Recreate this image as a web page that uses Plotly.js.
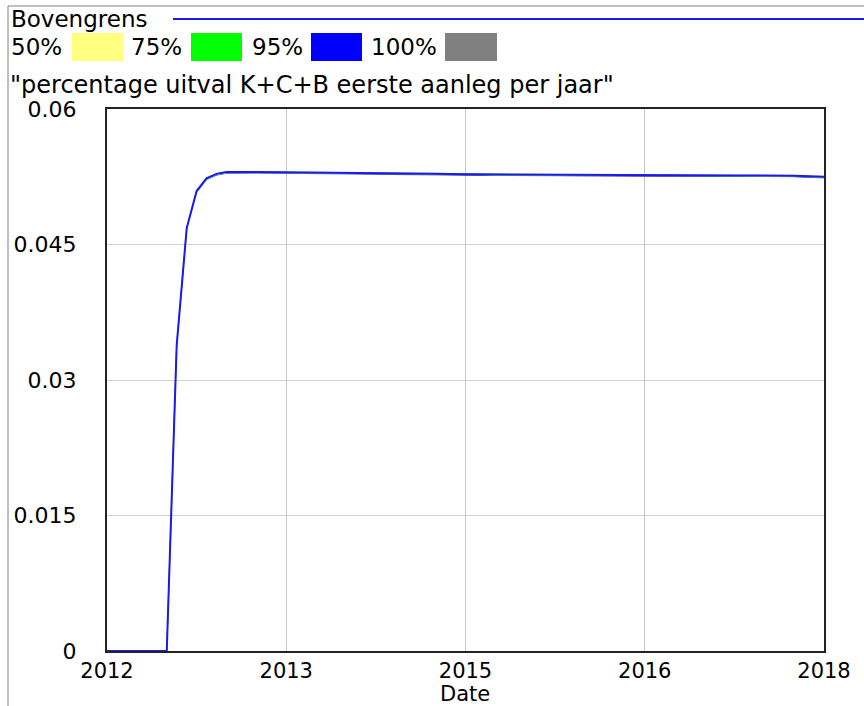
<!DOCTYPE html>
<html>
<head>
<meta charset="utf-8">
<script src="https://cdn.plot.ly/plotly-3.0.1.min.js"></script>
<style>html,body{margin:0;padding:0;background:#fff;}</style>
</head>
<body>
<div id="chart" style="width:864px;height:706px;"></div>
<script>
// ---- data ----
const time = [2012, 2012.5, 2012.583, 2012.667, 2012.75, 2012.833, 2012.917, 2013, 2013.25, 2013.5, 2013.75, 2014, 2014.25, 2014.5, 2014.75, 2015, 2015.25, 2015.5, 2015.75, 2016, 2016.25, 2016.5, 2016.75, 2017, 2017.25, 2017.5, 2017.75, 2018];
const bovengrens = [0,0,0.03382,0.04682,0.05092,0.05232,0.05282,0.05302,0.05303,0.05301,0.05299,0.05296,0.05293,0.05291,0.05284,0.05278,0.05276,0.05272,0.05275,0.05274,0.05272,0.05268,0.05268,0.05266,0.05265,0.05265,0.05262,0.05250];
const p100hi = [0,0,0.03385,0.04685,0.05095,0.05235,0.05285,0.05305,0.05305,0.05303,0.05300,0.05298,0.05295,0.05293,0.05287,0.05283,0.05278,0.05275,0.05277,0.05276,0.05274,0.05270,0.05270,0.05268,0.05267,0.05267,0.05264,0.05252];
const p100lo = [0,0,0.03360,0.04660,0.05070,0.05210,0.05262,0.05283,0.05285,0.05283,0.05280,0.05277,0.05275,0.05272,0.05265,0.05260,0.05257,0.05254,0.05255,0.05255,0.05253,0.05250,0.05250,0.05249,0.05248,0.05248,0.05245,0.05232];
const p95hi = [0,0,0.03380,0.04680,0.05090,0.05230,0.05280,0.05300,0.05302,0.05300,0.05298,0.05295,0.05292,0.05290,0.05283,0.05278,0.05274,0.05270,0.05273,0.05272,0.05270,0.05266,0.05266,0.05264,0.05264,0.05264,0.05261,0.05248];
const p95lo = [0,0,0.03365,0.04665,0.05075,0.05215,0.05267,0.05287,0.05288,0.05287,0.05284,0.05281,0.05279,0.05276,0.05269,0.05264,0.05260,0.05258,0.05259,0.05259,0.05257,0.05254,0.05253,0.05252,0.05251,0.05251,0.05248,0.05236];
const p75hi = [0,0,0.03375,0.04675,0.05085,0.05225,0.05276,0.05297,0.05298,0.05296,0.05294,0.05292,0.05290,0.05288,0.05282,0.05279,0.05273,0.05268,0.05270,0.05269,0.05268,0.05264,0.05264,0.05262,0.05261,0.05262,0.05259,0.05246];
const p75lo = [0,0,0.03368,0.04668,0.05074,0.05214,0.05268,0.05289,0.05291,0.05289,0.05287,0.05284,0.05282,0.05280,0.05274,0.05271,0.05264,0.05261,0.05263,0.05262,0.05261,0.05257,0.05256,0.05255,0.05254,0.05254,0.05251,0.05239];
const p50hi = [0,0,0.03372,0.04672,0.05080,0.05220,0.05273,0.05294,0.05295,0.05293,0.05291,0.05289,0.05287,0.05286,0.05280,0.05279,0.05270,0.05266,0.05267,0.05267,0.05266,0.05262,0.05261,0.05260,0.05259,0.05259,0.05256,0.05244];
const p50lo = [0,0,0.03370,0.04670,0.05077,0.05217,0.05270,0.05291,0.05293,0.05291,0.05289,0.05287,0.05285,0.05283,0.05277,0.05275,0.05267,0.05263,0.05265,0.05264,0.05263,0.05259,0.05258,0.05257,0.05256,0.05256,0.05254,0.05241];

const xTickVals = [2012, 2013.5, 2015, 2016.5, 2018];
const xTickText = ['2012', '2013', '2015', '2016', '2018'];
const yTickVals = [0, 0.015, 0.03, 0.045, 0.06];
const yTickText = ['0', '0.015', '0.03', '0.045', '0.06'];
const legendLabels = ['50%', '75%', '95%', '100%'];
const lineName = 'Bovengrens';
const varTitle = '"percentage uitval K+C+B eerste aanleg per jaar"';
const xTitle = 'Date';

// ---- styles ----
const bandColors = ['#ffff80', '#00ff00', '#0000ff', '#808080'];
const lineColor = '#1a1aee';

const W = 864, H = 706;
const L = 107, R = 824, T = 109, B = 651;
const px = x => (x - L) / (R - L);
const py = y => (B - y) / (B - T);

function band(lo, hi, color) {
  return [
    {x: time, y: lo, type: 'scatter', mode: 'lines', line: {width: 0, color: color}, hoverinfo: 'skip'},
    {x: time, y: hi, type: 'scatter', mode: 'lines', fill: 'tonexty', fillcolor: color, line: {width: 0.5, color: color}, hoverinfo: 'skip'}
  ];
}

const traces = [].concat(
  band(p100lo, p100hi, bandColors[3]),
  band(p95lo, p95hi, bandColors[2]),
  band(p75lo, p75hi, bandColors[1]),
  band(p50lo, p50hi, bandColors[0]),
  [{x: time, y: bovengrens, type: 'scatter', mode: 'lines', name: lineName, line: {width: 2, color: lineColor}}]
);

const font = {family: 'DejaVu Sans', size: 22, color: '#000'};
const xFont = {family: 'DejaVu Sans', size: 21, color: '#000'};
const legFont = {family: 'DejaVu Sans', size: 23, color: '#000'};
const titleFont = {family: 'DejaVu Sans', size: 24, color: '#000'};

// legend: text / box positions in pixels
const legItems = [
  {tx: 10, bx0: 72, bx1: 123},
  {tx: 130, bx0: 191, bx1: 242},
  {tx: 251, bx0: 311, bx1: 362},
  {tx: 370, bx0: 445, bx1: 497}
];

const shapes = [
  {type: 'line', xref: 'paper', yref: 'paper', x0: px(8), x1: px(8), y0: py(706), y1: py(6), line: {color: '#808080', width: 1}},
  {type: 'line', xref: 'paper', yref: 'paper', x0: px(8), x1: px(864), y0: py(6), y1: py(6), line: {color: '#808080', width: 1}},
  {type: 'line', xref: 'paper', yref: 'paper', x0: px(173), x1: px(864), y0: py(19), y1: py(19), line: {color: lineColor, width: 2}}
];
const annotations = [
  {text: lineName, xref: 'paper', yref: 'paper', x: px(9), y: py(19), xanchor: 'left', yanchor: 'middle', showarrow: false, font: legFont},
  {text: varTitle, xref: 'paper', yref: 'paper', x: px(8), y: py(85), xanchor: 'left', yanchor: 'middle', showarrow: false, font: titleFont},
  {text: xTitle, xref: 'paper', yref: 'paper', x: px(465), y: py(694), xanchor: 'center', yanchor: 'middle', showarrow: false, font: xFont, borderpad: 0}
];
legItems.forEach((it, i) => {
  shapes.push({type: 'rect', xref: 'paper', yref: 'paper', x0: px(it.bx0), x1: px(it.bx1), y0: py(61), y1: py(33), fillcolor: bandColors[i], line: {width: 0}});
  annotations.push({text: legendLabels[i], xref: 'paper', yref: 'paper', x: px(it.tx - 1), y: py(47), xanchor: 'left', yanchor: 'middle', showarrow: false, font: legFont});
});

const layout = {
  width: W, height: H,
  margin: {l: L, r: W - R, t: T, b: H - B, pad: 0},
  paper_bgcolor: '#fff', plot_bgcolor: '#fff',
  showlegend: false,
  font: font,
  xaxis: {
    range: [2012, 2018], tickmode: 'array', tickvals: xTickVals, ticktext: xTickText,
    showgrid: true, gridcolor: '#c8c8c8', gridwidth: 1, zeroline: false,
    showline: true, mirror: true, linecolor: '#222', linewidth: 2,
    ticks: '', tickfont: xFont
  },
  yaxis: {
    range: [0, 0.06], tickmode: 'array', tickvals: yTickVals, ticktext: yTickText,
    showgrid: true, gridcolor: '#d0d0d0', gridwidth: 1, zeroline: false,
    showline: true, mirror: true, linecolor: '#222', linewidth: 2,
    ticks: 'outside', ticklen: 24, tickcolor: 'rgba(0,0,0,0)',
    tickfont: font
  },
  shapes: shapes,
  annotations: annotations
};

Plotly.newPlot('chart', traces, layout, {displayModeBar: false, staticPlot: true});
</script>
</body>
</html>
